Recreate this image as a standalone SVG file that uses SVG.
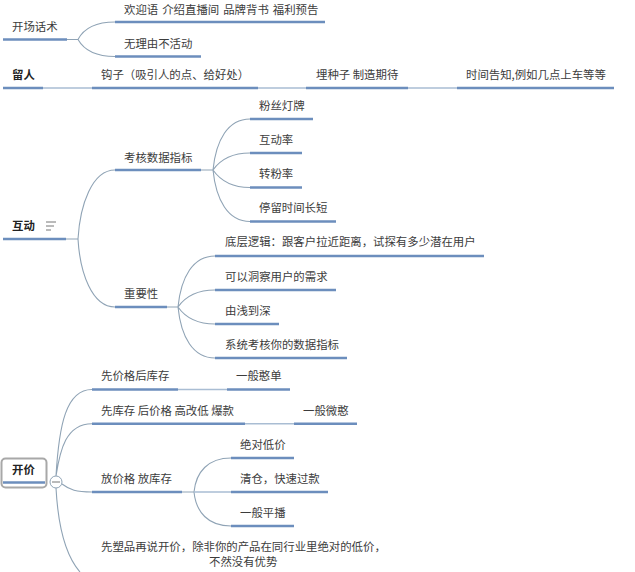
<svg xmlns="http://www.w3.org/2000/svg" width="635" height="572" viewBox="0 0 635 572">
<style>
text{font-family:"Noto Sans CJK SC","Liberation Sans",sans-serif;font-size:11.4px;fill:#3c3c3c}
.b{font-weight:700;fill:#222}
.u{stroke:#6c8ebd;stroke-width:2.6;fill:none}
.c{stroke:#8fa3b5;stroke-width:1.1;fill:none}
.l{stroke:#a9bdd3;stroke-width:1.4;fill:none}
</style>
<rect width="635" height="572" fill="#fff"/>
<g id="connectors">
<path class="c" d="M67 39.500H78C84 28 96 22 115 22M78 39.500C84 50 96 56.500 115 56.500"/>
<path class="l" d="M43 88H92M258 88H306M408 88H457"/>
<path class="c" d="M66 239H78C80 205 92 170 115 170M78 239C80 273 92 307 115 307"/>
<path class="c" d="M201 170H213C216 140 228 119 250 119M213 170C220 160 232 153 250 153M213 170C220 180 232 187.500 250 187.500M213 170C216 200 228 221.500 250 221.500"/>
<path class="c" d="M167 307H178C181 277 193 256 215 256M178 307C185 297 197 290 215 290M178 307C185 317 197 324 215 324M178 307C181 337 193 358 215 358"/>
<path class="c" d="M56 476C59 425 66 389.500 92 389.500M56 476C60 450 66 423.700 92 423.700M62 484C70 490 76 492 92 492M56 488C58 525 66 556 80 572"/>
<path class="l" d="M178 389.500H227M245 423.700H294"/>
<path class="c" d="M182 492H194C196 472 208 458 231 458M194 492C196 512 208 526 231 526"/>
<path class="l" d="M194 492H231"/>
</g>
<g id="n-kaichang"><path class="u" d="M3 39.500H67"/><text x="12" y="31">开场话术</text></g>
<g id="n-huanying"><path class="u" d="M115 22H325"/><text x="124" y="14" word-spacing="1.500">欢迎语 介绍直播间 品牌背书 福利预告</text></g>
<g id="n-wuli"><path class="u" d="M115 56.500H201"/><text x="124" y="48">无理由不活动</text></g>
<g id="n-liuren"><path class="u" d="M3 88H43"/><text class="b" x="12" y="79">留人</text></g>
<g id="n-gouzi"><path class="u" d="M92 88H258"/><text x="101" y="79">钩子（吸引人的点、给好处）</text></g>
<g id="n-maizhongzi"><path class="u" d="M306 88H408"/><text x="316" y="79">埋种子 制造期待</text></g>
<g id="n-shijian"><path class="u" d="M457 88H614"/><text x="466" y="79">时间告知,例如几点上车等等</text></g>
<g id="n-hudong"><path class="u" d="M3 239H66"/><text class="b" x="12" y="230">互动</text><path d="M46 222H56M46 226H54M46 230H51" stroke="#777" stroke-width="1" fill="none"/></g>
<g id="n-kaohe"><path class="u" d="M115 170H201"/><text x="124" y="162">考核数据指标</text></g>
<g id="n-fensi"><path class="u" d="M250 119H313"/><text x="259" y="110">粉丝灯牌</text></g>
<g id="n-hudonglv"><path class="u" d="M250 153H302"/><text x="259" y="144">互动率</text></g>
<g id="n-zhuanfen"><path class="u" d="M250 187.500H302"/><text x="259" y="178">转粉率</text></g>
<g id="n-tingliu"><path class="u" d="M250 221.500H336"/><text x="259" y="212">停留时间长短</text></g>
<g id="n-zhongyao"><path class="u" d="M115 307H167"/><text x="124" y="298">重要性</text></g>
<g id="n-diceng"><path class="u" d="M215 256H484"/><text x="225" y="246">底层逻辑：跟客户拉近距离，试探有多少潜在用户</text></g>
<g id="n-dongcha"><path class="u" d="M215 290H336"/><text x="225" y="281">可以洞察用户的需求</text></g>
<g id="n-youqian"><path class="u" d="M215 324H279"/><text x="225" y="315">由浅到深</text></g>
<g id="n-xitong"><path class="u" d="M215 358H347"/><text x="225" y="349">系统考核你的数据指标</text></g>
<g id="n-kaijia"><rect x="1.500" y="458.500" width="45" height="29" rx="4" fill="#fff" stroke="#a8a8a8" stroke-width="2"/><path class="u" d="M3 482.500H45"/><text class="b" x="12" y="474">开价</text></g>
<g id="n-toggle"><circle cx="56" cy="482" r="6" fill="#fff" stroke="#8fa3b5"/><path d="M52 482H60" stroke="#777"/></g>
<g id="n-xianjiage"><path class="u" d="M92 389.500H178"/><text x="101" y="380">先价格后库存</text></g>
<g id="n-hanhan"><path class="u" d="M227 389.500H290"/><text x="236" y="380">一般憨单</text></g>
<g id="n-xiankucun"><path class="u" d="M92 423.700H245"/><text x="101" y="415">先库存 后价格 高改低 爆款</text></g>
<g id="n-weihan"><path class="u" d="M294 423.700H357"/><text x="303" y="415">一般微憨</text></g>
<g id="n-fangjiage"><path class="u" d="M92 492H182"/><text x="101" y="483">放价格 放库存</text></g>
<g id="n-juedui"><path class="u" d="M231 458H294"/><text x="240" y="449">绝对低价</text></g>
<g id="n-qingcang"><path class="u" d="M231 492H328"/><text x="240" y="483">清仓，快速过款</text></g>
<g id="n-pingbo"><path class="u" d="M231 526H294"/><text x="240" y="517">一般平播</text></g>
<g id="n-xiansu"><text x="101" y="551">先塑品再说开价，除非你的产品在同行业里绝对的低价，</text><text x="209" y="566">不然没有优势</text></g>
</svg>
